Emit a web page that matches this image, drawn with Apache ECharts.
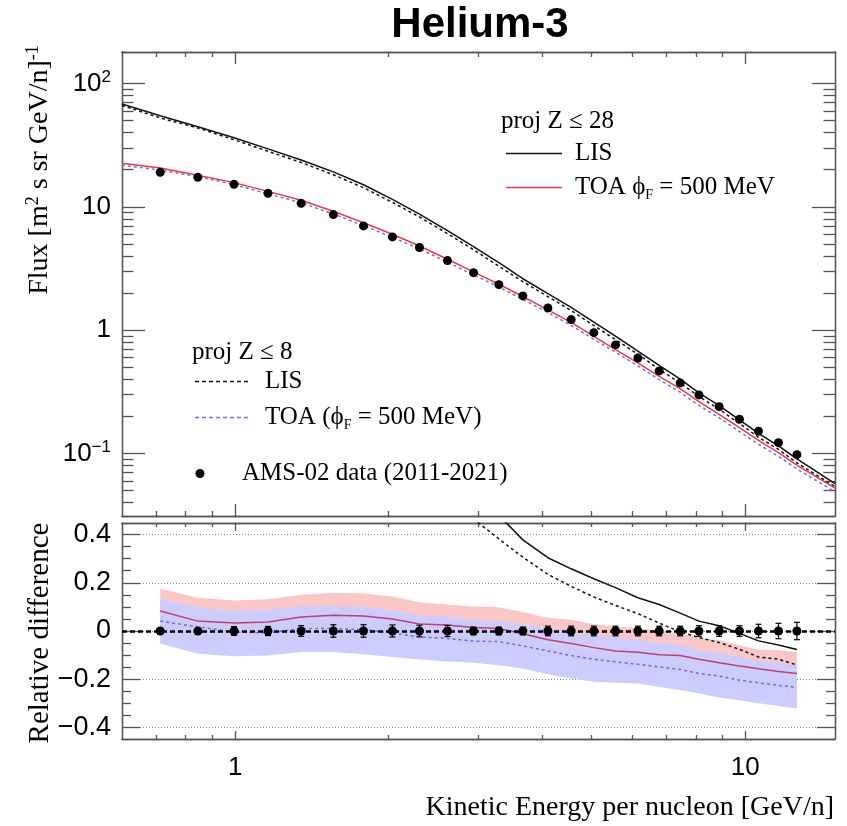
<!DOCTYPE html>
<html><head><meta charset="utf-8">
<script src="https://cdn.jsdelivr.net/npm/echarts@6/dist/echarts.min.js"></script>
<style>html,body{margin:0;padding:0;background:#fff}#c{width:847px;height:826px}</style>
</head><body><div id="c"></div>
<script>
// ---- Data ----
const amsE = [0.713,0.845,0.995,1.160,1.347,1.558,1.785,2.034,2.298,2.608,2.933,3.289,3.665,4.104,4.558,5.050,5.568,6.161,6.783,7.457,8.115,8.892,9.745,10.62,11.62,12.63];
const amsFlux = [19.05,17.35,15.22,12.87,10.68,8.66,7.01,5.71,4.68,3.67,2.93,2.34,1.897,1.517,1.219,0.956,0.760,0.596,0.468,0.374,0.299,0.240,0.190,0.152,0.1226,0.0980];
const amsRel = [0,0,0,0,0,0,0,0,0,0,0,0,0,0,0,0,0,0,0,0,0,0,0,0,0,0];
const amsRelErr = [0.004,0.005,0.018,0.019,0.022,0.026,0.026,0.025,0.024,0.023,0.016,0.016,0.016,0.02,0.02,0.02,0.02,0.02,0.02,0.02,0.022,0.022,0.022,0.028,0.032,0.036];

const modelE = [0.6,0.713,0.845,0.995,1.160,1.347,1.558,1.785,2.034,2.298,2.608,2.933,3.289,3.665,4.104,4.558,5.050,5.568,6.161,6.783,7.457,8.115,8.892,9.745,10.62,11.62,12.63,15];
const lis28 = [68.1,54.7,44.6,36.3,29.5,24.0,19.2,15.1,11.5,8.74,6.42,4.76,3.53,2.614,1.978,1.534,1.163,0.897,0.678,0.519,0.402,0.311,0.245,0.188,0.146,0.1155,0.0905,0.0572];
const lis8  = [66.3,52.6,43.6,35.0,28.2,22.9,18.2,14.3,10.87,8.28,6.07,4.50,3.30,2.477,1.873,1.445,1.091,0.841,0.639,0.483,0.3725,0.291,0.2285,0.1756,0.1356,0.1083,0.0842,0.054];
const toa28 = [22.6,20.63,18.06,15.72,13.35,11.30,9.22,7.44,6.00,4.82,3.76,2.97,2.36,1.876,1.462,1.156,0.890,0.697,0.544,0.422,0.336,0.264,0.208,0.162,0.128,0.102,0.0808,0.0524];
const toa8  = [21.8,19.83,17.64,15.16,12.77,10.79,8.75,7.05,5.66,4.56,3.56,2.81,2.24,1.779,1.391,1.095,0.844,0.663,0.514,0.398,0.314,0.246,0.195,0.151,0.119,0.0950,0.0751,0.049];

// relative differences at AMS energies
const relToa28 = [0.083,0.041,0.033,0.037,0.058,0.065,0.062,0.050,0.029,0.025,0.015,0.010,-0.011,-0.036,-0.052,-0.069,-0.083,-0.088,-0.099,-0.102,-0.117,-0.132,-0.145,-0.157,-0.168,-0.176];
const relToa28Up = [0.175,0.138,0.127,0.132,0.150,0.159,0.156,0.143,0.119,0.110,0.102,0.099,0.079,0.055,0.047,0.028,0.019,0.011,0.000,-0.011,-0.027,-0.038,-0.059,-0.077,-0.080,-0.087];
const relToa28Lo = [-0.009,-0.056,-0.061,-0.058,-0.034,-0.029,-0.032,-0.043,-0.061,-0.060,-0.072,-0.079,-0.101,-0.127,-0.157,-0.166,-0.185,-0.187,-0.198,-0.193,-0.207,-0.226,-0.231,-0.237,-0.256,-0.265];
const relToa8 = [0.041,0.017,-0.004,-0.008,0.010,0.010,0.006,-0.008,-0.025,-0.031,-0.042,-0.044,-0.062,-0.083,-0.102,-0.117,-0.128,-0.138,-0.149,-0.160,-0.176,-0.187,-0.204,-0.215,-0.225,-0.234];
const relToa8Up = [0.134,0.097,0.083,0.088,0.102,0.103,0.099,0.086,0.065,0.058,0.046,0.041,0.028,0.010,-0.004,-0.018,-0.027,-0.038,-0.050,-0.059,-0.080,-0.091,-0.108,-0.124,-0.132,-0.142];
const relToa8Lo = [-0.052,-0.094,-0.105,-0.102,-0.087,-0.087,-0.096,-0.108,-0.118,-0.127,-0.132,-0.142,-0.156,-0.179,-0.197,-0.211,-0.215,-0.218,-0.232,-0.245,-0.259,-0.276,-0.287,-0.300,-0.311,-0.321];
const relLis28 = [1.87,1.57,1.385,1.29,1.25,1.22,1.15,1.01,0.87,0.75,0.625,0.48,0.378,0.304,0.258,0.217,0.180,0.138,0.110,0.074,0.041,0.022,-0.010,-0.041,-0.058,-0.077];
const relLis8 = [1.76,1.51,1.30,1.19,1.14,1.10,1.04,0.90,0.77,0.65,0.465,0.382,0.306,0.235,0.185,0.141,0.106,0.072,0.033,-0.004,-0.027,-0.048,-0.076,-0.108,-0.117,-0.141];

// tick values
const xMajor = [1, 10];
const xMinor = [0.7,0.8,0.9,2,3,4,5,6,7,8,9];
const yTopMajor = [0.1, 1, 10, 100];
const yTopMinor = [0.04,0.05,0.06,0.07,0.08,0.09,0.2,0.3,0.4,0.5,0.6,0.7,0.8,0.9,2,3,4,5,6,7,8,9,20,30,40,50,60,70,80,90];
const yBotMajor = [-0.4,-0.2,0,0.2,0.4];
const yBotMinor = [-0.35,-0.3,-0.25,-0.15,-0.1,-0.05,0.05,0.1,0.15,0.25,0.3,0.35];

// ---- build ----
const AX = '#555';
const zip = (a,b) => a.map((v,i)=>[v,b[i]]);
function xAx(grid, pos, ticks, len, label) {
  return {type:'log', logBase:10, gridIndex:grid, position:pos, min:0.6, max:15,
    axisLine:{show:true, onZero:false, lineStyle:{color:AX, width:1.3}},
    axisTick:{show:true, inside:true, length:len, customValues:ticks, lineStyle:{color:AX, width:1.3}},
    minorTick:{show:false}, splitLine:{show:false},
    axisLabel: label || {show:false}};
}
function yAx(grid, pos, type, min, max, ticks, len, label, split) {
  const o = {type:type, gridIndex:grid, position:pos, min:min, max:max,
    axisLine:{show:true, onZero:false, lineStyle:{color:AX, width:1.3}},
    axisTick:{show:true, inside:true, length:len, customValues:ticks, lineStyle:{color:AX, width:1.3}},
    minorTick:{show:false}, splitLine: split || {show:false},
    axisLabel: label || {show:false}};
  if (type === 'log') o.logBase = 10;
  return o;
}
const lblFont = {fontFamily:'Liberation Sans, Arial, sans-serif', color:'#000'};
const xLabel = Object.assign({show:true, customValues:xMajor, fontSize:26, margin:16,
  formatter: v => (Math.abs(v-1)<1e-6 ? '1' : '10')}, lblFont);
const yTopLabel = Object.assign({show:true, customValues:yTopMajor, margin:11, fontSize:26,
  formatter: v => {
    if (v > 50) return '{b|10}{s|2}';
    if (v > 5) return '{b|10}';
    if (v > 0.5) return '{b|1}';
    return '{b|10}{s|\u22121}';
  },
  rich:{b:{fontSize:26, lineHeight:30, fontFamily:'Liberation Sans', color:'#000'},
        s:{fontSize:17, lineHeight:16, verticalAlign:'top', fontFamily:'Liberation Sans', color:'#000'}}}, lblFont);
const yBotLabel = Object.assign({show:true, customValues:yBotMajor, margin:11, fontSize:27,
  formatter: v => (Math.abs(v)<1e-9 ? '0' : (v<0 ? '\u2212' : '') + Math.abs(v).toFixed(1))}, lblFont);

const xAxes = [
  xAx(0,'bottom',xMajor,12), xAx(0,'bottom',xMinor,5), xAx(0,'top',xMajor,12), xAx(0,'top',xMinor,5),
  xAx(1,'bottom',xMajor,8,xLabel), xAx(1,'bottom',xMinor,4), xAx(1,'top',xMajor,8), xAx(1,'top',xMinor,4)
];
const yAxes = [
  yAx(0,'left','log',0.0312,180,yTopMajor,23,yTopLabel), yAx(0,'left','log',0.0312,180,yTopMinor,11.5),
  yAx(0,'right','log',0.0312,180,yTopMajor,23), yAx(0,'right','log',0.0312,180,yTopMinor,11.5),
  yAx(1,'left','value',-0.448,0.448,yBotMajor,18,yBotLabel,{show:true, lineStyle:{color:'#888', type:[1,2], width:1}}),
  yAx(1,'left','value',-0.448,0.448,yBotMinor,9),
  yAx(1,'right','value',-0.448,0.448,yBotMajor,18), yAx(1,'right','value',-0.448,0.448,yBotMinor,9)
];

function topLine(name, vals, color, dash, z) {
  return {name:name, type:'line', xAxisIndex:0, yAxisIndex:0, data:zip(modelE, vals), symbol:'none', smooth:false,
    lineStyle:{color:color, width:1.5, type:dash?[3,3]:'solid'}, z:z, clip:true, silent:true};
}
function botLine(name, vals, color, dash, z) {
  return {name:name, type:'line', xAxisIndex:4, yAxisIndex:4, data:zip(amsE, vals), symbol:'none', smooth:false,
    lineStyle:{color:color, width:1.5, type:dash?[3,3]:'solid'}, z:z, clip:true, silent:true};
}
// band drawn as one polygon through the axis scales
function band(lo, up, color, z) {
  const data = amsE.map((e,i)=>[e, lo[i], up[i]]);
  return {type:'custom', xAxisIndex:4, yAxisIndex:4, data:data, z:z, silent:true,
    encode:{x:0, y:[1,2]},
    renderItem:function(params, api){
      if (params.dataIndex !== 0) return null;
      const pts = [];
      for (let i=0;i<data.length;i++) pts.push(api.coord([data[i][0], data[i][2]]));
      for (let i=data.length-1;i>=0;i--) pts.push(api.coord([data[i][0], data[i][1]]));
      return {type:'polygon', shape:{points:pts}, style:{fill:color, stroke:null}};
    }};
}

const errData = amsE.map((e,i)=>[e, amsRel[i]-amsRelErr[i], amsRel[i]+amsRelErr[i]]);

const series = [
  topLine('LIS28', lis28, '#111', false, 3),
  topLine('LIS8', lis8, '#111', true, 3),
  topLine('TOA28', toa28, '#ee3a3a', false, 4),
  topLine('TOA8', toa8, '#6f6fee', true, 4),
  {type:'scatter', xAxisIndex:0, yAxisIndex:0, data:zip(amsE, amsFlux), symbol:'circle', symbolSize:9,
    itemStyle:{color:'#000', opacity:1}, z:6, silent:true},
  band(relToa28Lo, relToa28Up, '#fbc6c6', 1),
  band(relToa8Lo, relToa8Up, '#ccccff', 2),
  botLine('rTOA28', relToa28, '#c4406a', false, 4),
  botLine('rTOA8', relToa8, '#6a6af0', true, 4),
  botLine('rLIS28', relLis28, '#111', false, 4),
  botLine('rLIS8', relLis8, '#111', true, 4),
  {type:'custom', xAxisIndex:4, yAxisIndex:4, data:errData, z:7, silent:true,
    encode:{x:0, y:[1,2]},
    renderItem:function(params, api){
      const x = api.value(0);
      const p1 = api.coord([x, api.value(1)]), p2 = api.coord([x, api.value(2)]);
      const w = 3, st = {stroke:'#000', lineWidth:1.2};
      return {type:'group', children:[
        {type:'line', shape:{x1:p1[0],y1:p1[1],x2:p2[0],y2:p2[1]}, style:st},
        {type:'line', shape:{x1:p1[0]-w,y1:p1[1],x2:p1[0]+w,y2:p1[1]}, style:st},
        {type:'line', shape:{x1:p2[0]-w,y1:p2[1],x2:p2[0]+w,y2:p2[1]}, style:st}
      ]};
    }},
  {type:'scatter', xAxisIndex:4, yAxisIndex:4, data:zip(amsE, amsRel), symbol:'circle', symbolSize:9,
    itemStyle:{color:'#000', opacity:1}, z:8, silent:true,
    markLine:{silent:true, symbol:'none', label:{show:false}, data:[{yAxis:0}],
      lineStyle:{color:'#000', type:[5,3], width:2.5}, z:5}}
];

const serif = 'Liberation Serif, Times New Roman, DejaVu Serif, serif';
const legendFont = 25;
function gtext(x, y, text, opts) {
  return {type:'text', x:x, y:y, silent:true,
    style:Object.assign({text:text, fontFamily:serif, fontSize:legendFont, fill:'#000', align:'left', verticalAlign:'middle'}, opts||{})};
}
const richLeg = {t:{fontFamily:serif, fontSize:legendFont, lineHeight:30, fill:'#000', color:'#000'},
                 s:{fontFamily:serif, fontSize:14, lineHeight:12, verticalAlign:'bottom', fill:'#000', color:'#000'}};
const graphic = [
  {type:'text', x:480, y:25, silent:true, style:{text:'Helium-3', fontFamily:'Liberation Sans, Arial, sans-serif', fontWeight:'bold', fontSize:42, fill:'#000', align:'center', verticalAlign:'middle'}},
  // y titles
  {type:'text', x:40, y:170, rotation:Math.PI/2, silent:true,
    style:{text:'{t|Flux [m}{s|2}{t| s sr GeV/n]}{s|-1}', align:'center', verticalAlign:'middle',
      rich:{t:{fontFamily:serif, fontSize:28, lineHeight:32, fill:'#000'}, s:{fontFamily:serif, fontSize:18, lineHeight:17, verticalAlign:'top', fill:'#000'}}}},
  {type:'text', x:40, y:633, rotation:Math.PI/2, silent:true,
    style:{text:'Relative difference', fontFamily:serif, fontSize:29, fill:'#000', align:'center', verticalAlign:'middle'}},
  {type:'text', x:834, y:808, silent:true,
    style:{text:'Kinetic Energy per nucleon [GeV/n]', fontFamily:serif, fontSize:28, fill:'#000', align:'right', verticalAlign:'middle'}},
  // legend top-right
  gtext(501, 121, 'proj Z \u2264 28'),
  {type:'line', silent:true, shape:{x1:506, y1:153.5, x2:562, y2:153.5}, style:{stroke:'#111', lineWidth:1.5}},
  gtext(575, 153, 'LIS'),
  {type:'line', silent:true, shape:{x1:506, y1:187.5, x2:562, y2:187.5}, style:{stroke:'#ee3a3a', lineWidth:1.5}},
  {type:'text', x:575, y:187, silent:true, style:{text:'{t|TOA \u03d5}{s|F}{t| = 500 MeV}', align:'left', verticalAlign:'middle', rich:richLeg}},
  // legend bottom-left
  gtext(192, 352, 'proj Z \u2264 8'),
  {type:'line', silent:true, shape:{x1:195, y1:381.5, x2:251, y2:381.5}, style:{stroke:'#111', lineWidth:1.5, lineDash:[4,3]}},
  gtext(265, 381, 'LIS'),
  {type:'line', silent:true, shape:{x1:195, y1:417.5, x2:251, y2:417.5}, style:{stroke:'#6f6fee', lineWidth:1.5, lineDash:[4,3]}},
  {type:'text', x:265, y:417, silent:true, style:{text:'{t|TOA (\u03d5}{s|F}{t| = 500 MeV)}', align:'left', verticalAlign:'middle', rich:richLeg}},
  {type:'circle', silent:true, shape:{cx:200, cy:473.5, r:4.5}, style:{fill:'#000'}},
  gtext(242, 473, 'AMS-02 data (2011-2021)')
];

const chart = echarts.init(document.getElementById('c'), null, {renderer:'canvas'});
chart.setOption({
  animation:false,
  backgroundColor:'#fff',
  grid:[
    {left:122, right:12, top:52, height:464, outerBoundsMode:'none'},
    {left:122, right:12, top:523, height:216, outerBoundsMode:'none'}
  ],
  xAxis:xAxes, yAxis:yAxes, series:series, graphic:graphic
});
</script></body></html>
